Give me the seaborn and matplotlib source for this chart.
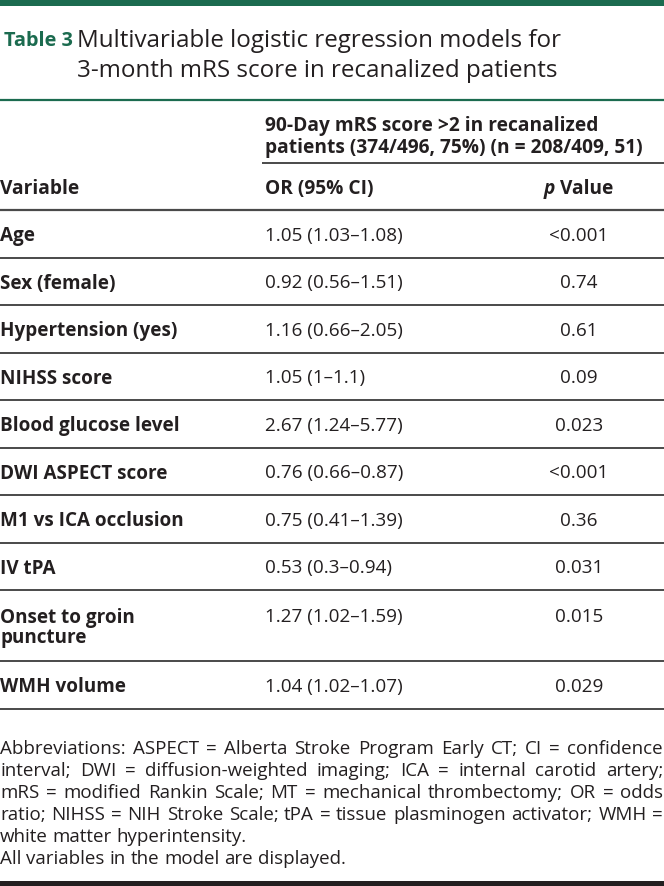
import matplotlib
matplotlib.use("Agg")
import matplotlib.pyplot as plt
import seaborn as sns

# ---------------- data ----------------
variables = ["Age", "Sex (female)", "Hypertension (yes)", "NIHSS score",
             "Blood glucose level", "DWI ASPECT score", "M1 vs ICA occlusion",
             "IV tPA", "Onset to groin\npuncture", "WMH volume"]
or_ci = ["1.05 (1.03–1.08)", "0.92 (0.56–1.51)", "1.16 (0.66–2.05)", "1.05 (1–1.1)",
         "2.67 (1.24–5.77)", "0.76 (0.66–0.87)", "0.75 (0.41–1.39)", "0.53 (0.3–0.94)",
         "1.27 (1.02–1.59)", "1.04 (1.02–1.07)"]
p_values = ["<0.001", "0.74", "0.61", "0.09", "0.023", "<0.001", "0.36", "0.031",
            "0.015", "0.029"]
title_label = "Table 3"
title_lines = ["Multivariable logistic regression models for",
               "3-month mRS score in recanalized patients"]
group_header = ["90-Day mRS score >2 in recanalized",
                "patients (374/496, 75%) (n = 208/409, 51)"]
col_headers = ["Variable", "OR (95% CI)", "p", "Value"]
footnote_lines = [
    "Abbreviations: ASPECT = Alberta Stroke Program Early CT; CI = confidence",
    "interval; DWI = diffusion-weighted imaging; ICA = internal carotid artery;",
    "mRS = modified Rankin Scale; MT = mechanical thrombectomy; OR = odds",
    "ratio; NIHSS = NIH Stroke Scale; tPA = tissue plasminogen activator; WMH =",
    "white matter hyperintensity.",
    "All variables in the model are displayed.",
]

# ---------------- style ----------------
sns.set_theme(style="white")
plt.rcParams["font.family"] = ["Open Sans", "DejaVu Sans"]

GREEN = "#1b6b4f"
TEXT = "#231f20"
LINE = "#4a4a4a"

W, H = 664, 886
fig = plt.figure(figsize=(W / 100, H / 100), dpi=100)
ax = fig.add_axes([0, 0, 1, 1])
ax.set_xlim(0, W)
ax.set_ylim(H, 0)
ax.axis("off")
renderer = fig.canvas.get_renderer()


def width_of(t):
    return t.get_window_extent(renderer).width


# top bar
ax.axhspan(0, 6, color=GREEN, lw=0)

# title
ax.text(4, 38, title_label, fontsize=14.3, fontweight="bold", color=GREEN,
        va="center_baseline", ha="left")
ax.text(77, 38, title_lines[0], fontsize=17.4, color=TEXT, va="center_baseline", ha="left")
ax.text(77, 68, title_lines[1], fontsize=17.4, color=TEXT, va="center_baseline", ha="left")
ax.plot([0, W], [100, 100], color=GREEN, lw=1.6, solid_capstyle="butt")

# headers
HX1, HXP = 265, 579
hfs = 13.8
ax.text(HX1, 123, group_header[0], fontsize=hfs, fontweight="bold", color=TEXT,
        va="center_baseline", ha="left")
ax.text(HX1, 145, group_header[1], fontsize=hfs, fontweight="bold", color=TEXT,
        va="center_baseline", ha="left")
ax.plot([262, W], [163, 163], color=LINE, lw=1.4, solid_capstyle="butt")
ax.text(0, 186, col_headers[0], fontsize=hfs, fontweight="bold", color=TEXT,
        va="center_baseline", ha="left")
ax.text(HX1, 186, col_headers[1], fontsize=hfs, fontweight="bold", color=TEXT,
        va="center_baseline", ha="left")
tp = ax.text(0, 186, col_headers[2], fontsize=hfs, fontweight="bold", style="italic",
             color=TEXT, va="center_baseline", ha="left")
tv = ax.text(0, 186, col_headers[3], fontsize=hfs, fontweight="bold",
             color=TEXT, va="center_baseline", ha="left")
wp, wv = width_of(tp), width_of(tv)
sp = hfs * 100 / 72 * 0.26
x0 = HXP - (wp + sp + wv) / 2
tp.set_x(x0)
tv.set_x(x0 + wp + sp)
ax.plot([0, W], [210, 210], color=LINE, lw=1.6, solid_capstyle="butt")

# body
heights = [47.5 if "\n" not in v else 71 for v in variables]
y = 210
fs = 13.6
for v, o, p, h in zip(variables, or_ci, p_values, heights):
    if "\n" in v:
        yc = y + 25
        a, b = v.split("\n")
        ax.text(0, yc, a, fontsize=fs, fontweight="bold", color=TEXT,
                va="center_baseline", ha="left")
        ax.text(0, yc + 21, b, fontsize=fs, fontweight="bold", color=TEXT,
                va="center_baseline", ha="left")
    else:
        yc = y + h / 2
        ax.text(0, yc, v, fontsize=fs, fontweight="bold", color=TEXT,
                va="center_baseline", ha="left")
    ax.text(HX1, yc, o, fontsize=fs, color=TEXT, va="center_baseline", ha="left")
    ax.text(HXP, yc, p, fontsize=fs, color=TEXT, va="center_baseline", ha="center")
    y += h
    ax.plot([0, W], [y, y], color=LINE, lw=1.4, solid_capstyle="butt")

# footnote (justified)
ffs = 13.5
while True:
    ok = True
    for line in footnote_lines[:4]:
        ws = line.split(" ")
        ts = [ax.text(0, 0, w, fontsize=ffs) for w in ws]
        tot = sum(width_of(t) for t in ts)
        for t in ts:
            t.remove()
        if (W - 1 - tot) / (len(ws) - 1) < 3.2:
            ok = False
    if ok:
        break
    ffs -= 0.1

fy = 747
for i, line in enumerate(footnote_lines):
    words = line.split(" ")
    justify = i in (0, 1, 2, 3)
    texts = [ax.text(0, fy, w, fontsize=ffs, color=TEXT, va="center_baseline", ha="left")
             for w in words]
    widths = [width_of(t) for t in texts]
    if justify and len(words) > 1:
        gap = (W - 1 - sum(widths)) / (len(words) - 1)
    else:
        gap = ffs * 100 / 72 * 0.26
    x = 0
    for t, wdt in zip(texts, widths):
        t.set_x(x)
        x += wdt + gap
    fy += 22

ax.axhspan(881, 886, color=TEXT, lw=0)

fig.savefig("out.png", dpi=100)
